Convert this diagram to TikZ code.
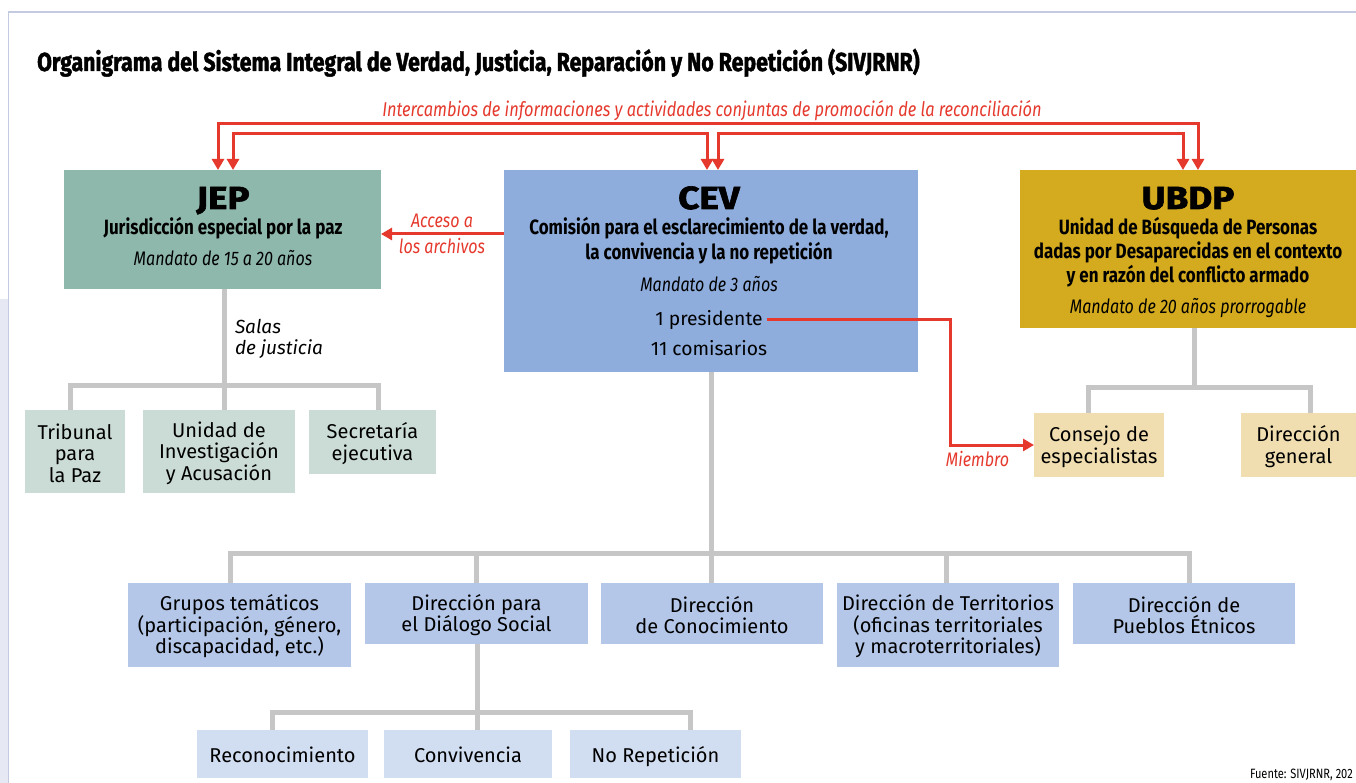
\documentclass[tikz,border=0pt]{standalone}
\usepackage{fontspec}
\setmainfont{Fira Sans}
\newfontfamily\condf[FakeStretch=0.82]{Fira Sans}
\newfontfamily\titlef[FakeStretch=0.82,BoldFeatures={FakeBold=1.6}]{Fira Sans}
\newfontfamily\headf[FakeStretch=1.15,BoldFeatures={FakeBold=2}]{Fira Sans}
\usetikzlibrary{arrows.meta,calc}
\newcommand{\mystrut}{\rule{0pt}{19pt}}
\definecolor{jepc}{RGB}{143,184,173}
\definecolor{jepl}{RGB}{203,220,214}
\definecolor{cevc}{RGB}{142,173,220}
\definecolor{cevl}{RGB}{180,199,232}
\definecolor{cevll}{RGB}{209,221,240}
\definecolor{ubdpc}{RGB}{212,170,30}
\definecolor{ubdpl}{RGB}{240,222,176}
\definecolor{redc}{RGB}{230,57,45}
\definecolor{grayc}{RGB}{198,198,198}
\definecolor{framec}{RGB}{196,202,224}
\definecolor{stripc}{RGB}{230,233,244}
\begin{document}
\begin{tikzpicture}[x=1pt,y=-1pt,
  box/.style={draw=none,inner sep=0pt,outer sep=0pt,align=center,
    font=\fontsize{20}{21.5}\selectfont},
  onebox/.style={box,text height=20pt,text depth=4pt},
  txt/.style={inner sep=0pt,outer sep=0pt,anchor=base},
  headt/.style={txt,font=\headf\bfseries\fontsize{32}{32}\selectfont},
  subt/.style={txt,font=\condf\bfseries\fontsize{20.7}{22}\selectfont},
  mandt/.style={txt,font=\condf\itshape\fontsize{19.6}{20}\selectfont},
  plaint/.style={txt,font=\fontsize{19.3}{20}\selectfont},
  redt/.style={txt,text=redc,font=\condf\itshape\fontsize{19.6}{20}\selectfont},
  tree/.style={draw=grayc,line width=5pt},
  rarrow/.style={draw=redc,line width=3pt,-{Triangle[width=12pt,length=11pt]}},
  rarrows/.style={draw=redc,line width=3pt,{Triangle[width=12pt,length=11pt]}-{Triangle[width=12pt,length=11pt]}}]
\fill[white] (0,0) rectangle (1356,783);
\useasboundingbox (0,0) rectangle (1356,783);
\fill[stripc] (0,299) rectangle (7.8,783);
\draw[framec,line width=1.5pt] (8.5,783) -- (8.5,12) -- (1356,12);

% title
\node[inner sep=0pt,anchor=base west,font=\titlef\bfseries\fontsize{26}{30}\selectfont] (title) at (37,71)
  {Organigrama del Sistema Integral de Verdad, Justicia, Reparación y No Repetición (SIVJRNR)};

% main boxes
\node[box,fill=jepc,minimum width=317pt,minimum height=119pt] (jep) at (222.5,229.5) {};
\node[headt] (jeph) at (223,209) {JEP};
\node[subt] (jeps) at (223,235) {Jurisdicción especial por la paz};
\node[mandt] (jepm) at (223,266) {Mandato de 15 a 20 años};

\node[box,fill=cevc,minimum width=414pt,minimum height=202pt] (cev) at (711,271) {};
\node[headt] (cevh) at (709,209) {CEV};
\node[subt] (cevs1) at (709,235) {Comisión para el esclarecimiento de la verdad,};
\node[subt] (cevs2) at (709,260) {la convivencia y la no repetición};
\node[mandt] (cevm) at (709,292) {Mandato de 3 años};
\node[plaint] (pres) at (709,325) {1 presidente};
\node[plaint] (comis) at (709,355) {11 comisarios};

\node[box,fill=ubdpc,minimum width=336pt,minimum height=158pt] (ubdp) at (1188,249) {};
\node[headt] (ubdph) at (1188,209) {UBDP};
\node[subt] (ubdps1) at (1188,235) {Unidad de Búsqueda de Personas};
\node[subt] (ubdps2) at (1188,259) {dadas por Desaparecidas en el contexto};
\node[subt] (ubdps3) at (1188,283) {y en razón del conflicto armado};
\node[mandt] (ubdpm) at (1188,313) {Mandato de 20 años prorrogable};

% JEP children
\node[box,fill=jepl,minimum width=100pt,minimum height=83pt] (trib) at (75,451.5) {\mystrut Tribunal\\para\\la Paz};
\node[box,fill=jepl,minimum width=152pt,minimum height=83pt] (unid) at (219,451.5) {\mystrut Unidad de\\Investigación\\y Acusación};
\node[box,fill=jepl,minimum width=127pt,minimum height=64pt] (secr) at (372.5,442) {\mystrut Secretaría\\ejecutiva};

% UBDP children
\node[box,fill=ubdpl,minimum width=130pt,minimum height=64pt] (consejo) at (1099,445) {\mystrut Consejo de\\especialistas};
\node[box,fill=ubdpl,minimum width=115pt,minimum height=64pt] (dirg) at (1298.5,445) {\mystrut Dirección\\general};

% CEV children
\node[box,fill=cevl,minimum width=223pt,minimum height=84pt] (grupos) at (239.5,625) {\mystrut Grupos temáticos\\(participación, género,\\discapacidad, etc.)};
\node[box,fill=cevl,minimum width=223pt,minimum height=61pt] (dirp) at (476.5,613.5) {\mystrut Dirección para\\el Diálogo Social};
\node[box,fill=cevl,minimum width=222pt,minimum height=61pt] (conoc) at (712,613.5) {\mystrut Dirección\\de Conocimiento};
\node[box,fill=cevl,minimum width=222pt,minimum height=84pt] (territ) at (948,625) {\mystrut Dirección de Territorios\\(oficinas territoriales\\y macroterritoriales)};
\node[box,fill=cevl,minimum width=222pt,minimum height=61pt] (pueblos) at (1184,613.5) {\mystrut Dirección de\\Pueblos Étnicos};

\node[onebox,fill=cevll,minimum width=171pt,minimum height=48pt] (recon) at (282.5,754) {Reconocimiento};
\node[onebox,fill=cevll,minimum width=168pt,minimum height=48pt] (conv) at (468,754) {Convivencia};
\node[onebox,fill=cevll,minimum width=171pt,minimum height=48pt] (norep) at (655.5,754) {No Repetición};

% gray trees
\draw[tree] ([xshift=1.5pt]jep.south) -- ++(0,96);
\draw[tree] ([xshift=-5pt]trib.north) -- ++(0,-25) -| ([xshift=5.5pt]secr.north);
\draw[tree] ([xshift=5pt]unid.north) -- ++(0,-25);

\draw[tree] ([xshift=6pt]ubdp.south) -- ++(0,59);
\draw[tree] ([xshift=-11pt]consejo.north) -- ++(0,-26) -| ([xshift=11.5pt]dirg.north);

\draw[tree] (cev.south) -- ++(0,181);
\draw[tree] ([xshift=-9.5pt]grupos.north) -- ++(0,-30) -| ([xshift=5pt]pueblos.north);
\draw[tree] (dirp.north) -- ++(0,-30);
\draw[tree] ([xshift=-1pt]conoc.north) -- ++(0,-30);
\draw[tree] ([xshift=-2pt]territ.north) -- ++(0,-30);

\draw[tree] ([xshift=0.5pt]dirp.south) -- ([xshift=0.5pt]dirp.south |- conv.north);
\draw[tree] ([xshift=-10.5pt]recon.north) -- ++(0,-18) -| ([xshift=34.5pt]norep.north);

\node[txt,anchor=base west,font=\itshape\fontsize{19}{20}\selectfont] (salas1) at (235,333) {Salas};
\node[txt,anchor=base west,font=\itshape\fontsize{19}{20}\selectfont] (salas2) at (235,354) {de justicia};

% red connectors
\draw[rarrows] ([xshift=-4.5pt]jep.north) -- ++(0,-46) -| ([xshift=10pt]ubdp.north);
\draw[rarrows] ([xshift=10.5pt]jep.north) -- ++(0,-36) -| ([xshift=-4pt]cev.north);
\draw[rarrows] ([xshift=7pt]cev.north) -- ++(0,-36) -| ([xshift=-5pt]ubdp.north);
\node[redt,font=\condf\itshape\fontsize{20}{20}\selectfont] (inter) at (712,117) {Intercambios de informaciones y actividades conjuntas de promoción de la reconciliación};

\draw[rarrow] ([yshift=-64pt]cev.north west) -- ([yshift=-64pt]jep.north east);
\node[redt] (acc1) at (442,228) {Acceso a};
\node[redt] (acc2) at (442,254) {los archivos};

\coordinate (mbend) at (950,445);
\draw[rarrow] ([xshift=4pt]pres.east) -- (pres.east -| mbend) -- (mbend) -- (consejo.west);
\node[redt] (miembro) at (977.5,466) {Miembro};

\node[txt,anchor=base west,font=\condf\fontsize{13.5}{14}\selectfont] (fuente) at (1250,778) {Fuente: SIVJRNR, 202};
\end{tikzpicture}
\end{document}
